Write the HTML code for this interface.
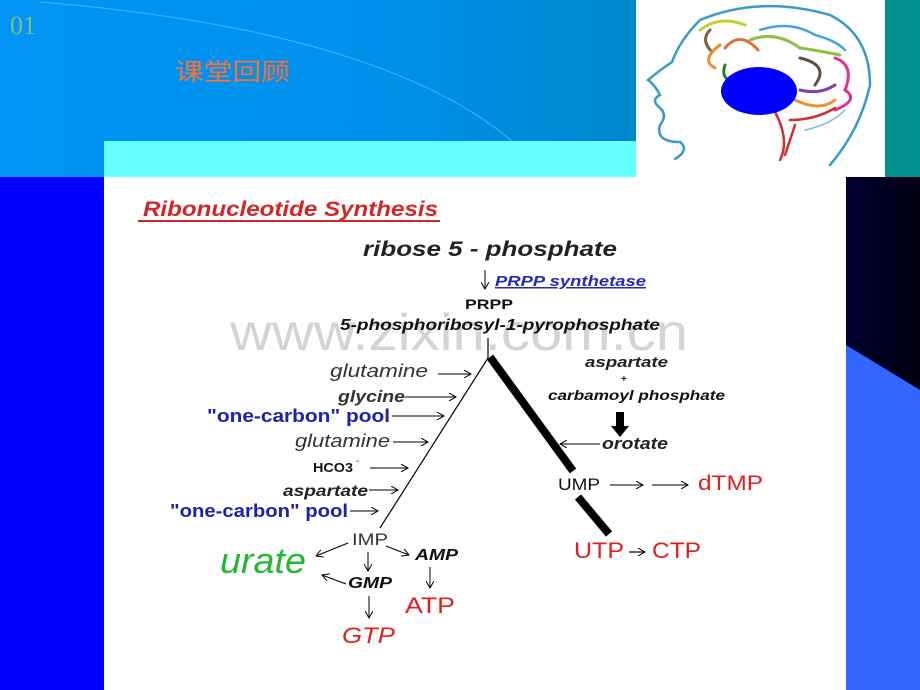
<!DOCTYPE html>
<html><head><meta charset="utf-8"><style>
html,body{margin:0;padding:0;width:920px;height:690px;overflow:hidden;background:#fff}
svg{display:block}
</style></head><body>
<svg width="920" height="690" viewBox="0 0 920 690" xmlns="http://www.w3.org/2000/svg" font-family="Liberation Sans, Arial, sans-serif">
<defs>
<linearGradient id="top" x1="0" x2="1" y1="0" y2="0"><stop offset="0" stop-color="#0094f4"/><stop offset="0.6" stop-color="#0090ec"/><stop offset="1" stop-color="#0088cc"/></linearGradient>
<linearGradient id="navy" x1="0" x2="1"><stop offset="0" stop-color="#000033"/><stop offset="1" stop-color="#00000f"/></linearGradient>
<clipPath id="hc"><rect x="0" y="0" width="636" height="141"/></clipPath>
<marker id="ah" markerWidth="8" markerHeight="8" refX="7" refY="4" orient="auto" markerUnits="userSpaceOnUse"><path d="M0,0 L7,4 L0,8" fill="none" stroke="#000" stroke-width="1"/></marker>
</defs>
<rect x="0" y="0" width="636" height="177" fill="url(#top)"/>
<path d="M40,2 Q380,30 512,141" fill="none" stroke="#3ab8ff" stroke-width="1" clip-path="url(#hc)"/>
<rect x="104" y="141" width="532" height="36" fill="#66ffff"/>
<rect x="885" y="0" width="35" height="177" fill="#009090"/>
<rect x="636" y="0" width="249" height="177" fill="#fff"/>
<text x="10" y="34" font-family="Liberation Serif, serif" font-size="26" fill="#80c080">01</text>
<text x="175" y="80" font-family="Liberation Sans, 'Noto Sans CJK SC', sans-serif" font-size="24" fill="#ff7030" textLength="115" lengthAdjust="spacingAndGlyphs">课堂回顾</text>
<g fill="none" stroke-linecap="round">
<path d="M675,159 Q690,150 680,142 Q655,142 660,125 Q668,115 660,108 Q650,100 660,95 Q655,85 648,80 Q660,70 672,62 Q680,40 700,20 Q760,-5 830,15 Q870,35 870,85 Q860,130 830,165" stroke="#3a9ac8" stroke-width="2.5"/>
<path d="M700,30 Q720,15 745,25" stroke="#c8d030" stroke-width="3"/>
<path d="M710,30 Q700,40 712,52" stroke="#806040" stroke-width="3"/>
<path d="M720,45 Q700,60 715,68" stroke="#e89030" stroke-width="3"/>
<path d="M725,48 Q740,30 758,50" stroke="#e07040" stroke-width="3"/>
<path d="M750,40 Q775,30 800,48 Q815,50 840,55" stroke="#90c040" stroke-width="3"/>
<path d="M760,30 Q790,20 815,35 Q835,40 845,50" stroke="#40a8d8" stroke-width="2.5"/>
<path d="M800,58 Q830,65 815,85" stroke="#605040" stroke-width="3"/>
<path d="M835,58 Q855,65 845,90 Q860,100 835,110" stroke="#e03090" stroke-width="3"/>
<path d="M800,90 Q820,95 835,85" stroke="#8040a0" stroke-width="3"/>
<path d="M795,100 Q820,112 835,100" stroke="#f09030" stroke-width="3"/>
<path d="M725,65 Q720,80 735,82" stroke="#208030" stroke-width="3"/>
<path d="M775,112 Q790,140 780,160 M790,120 Q815,120 835,108 M795,125 Q790,140 785,155" stroke="#d03030" stroke-width="2.5"/>
<path d="M805,130 Q830,125 845,110" stroke="#7ab8d8" stroke-width="1.5"/>
</g>
<ellipse cx="759" cy="91" rx="38" ry="24" fill="#0000ff"/>
<rect x="0" y="177" width="104" height="513" fill="#0000ff"/>
<rect x="846" y="177" width="74" height="513" fill="url(#navy)"/>
<polygon points="846,345 920,390 920,690 846,690" fill="#3366ff"/>
<text x="230" y="350" font-size="52" fill="#d4d4d4" textLength="458" lengthAdjust="spacingAndGlyphs">www.zixin.com.cn</text>
<g lengthAdjust="spacingAndGlyphs">
<text x="143" y="216" font-size="21" font-weight="bold" font-style="italic" fill="#d02828" textLength="295" lengthAdjust="spacingAndGlyphs">Ribonucleotide Synthesis</text>
<rect x="138" y="220" width="302" height="2" fill="#d02828"/>
<text x="363" y="256" font-size="21" font-style="italic" font-weight="bold" fill="#222" textLength="254" lengthAdjust="spacingAndGlyphs">ribose  5 - phosphate</text>
<line x1="485" y1="270" x2="485" y2="289" stroke="#000" marker-end="url(#ah)"/>
<text x="495" y="286" font-size="15" font-style="italic" font-weight="bold" fill="#2828c0" text-decoration="underline" textLength="151" lengthAdjust="spacingAndGlyphs">PRPP synthetase</text>
<text x="465" y="309" font-size="14" font-weight="bold" fill="#111" textLength="48" lengthAdjust="spacingAndGlyphs">PRPP</text>
<text x="340" y="330" font-size="16" font-style="italic" font-weight="bold" fill="#111" textLength="320" lengthAdjust="spacingAndGlyphs">5-phosphoribosyl-1-pyrophosphate</text>
<line x1="488" y1="338" x2="488" y2="358" stroke="#000" stroke-width="1.2"/>
<line x1="488" y1="358" x2="380" y2="528" stroke="#000" stroke-width="1.2"/>
<line x1="490" y1="357" x2="573" y2="471" stroke="#000" stroke-width="8"/>
<line x1="578" y1="497" x2="609" y2="534" stroke="#000" stroke-width="8"/>
<g font-size="18" fill="#333">
<text x="330" y="377" font-style="italic" textLength="98" lengthAdjust="spacingAndGlyphs">glutamine</text>
<text x="338" y="402" font-style="italic" font-weight="bold" font-size="17" textLength="67" lengthAdjust="spacingAndGlyphs">glycine</text>
<text x="207" y="422" font-weight="bold" fill="#2020b0" textLength="183" lengthAdjust="spacingAndGlyphs">"one-carbon" pool</text>
<text x="295" y="447" font-style="italic" textLength="95" lengthAdjust="spacingAndGlyphs">glutamine</text>
<text x="313" y="472" font-weight="bold" font-size="13" fill="#111" textLength="40" lengthAdjust="spacingAndGlyphs">HCO3</text><text x="356" y="464" font-size="10">-</text>
<text x="283" y="496" font-style="italic" font-weight="bold" font-size="16" fill="#222" textLength="85" lengthAdjust="spacingAndGlyphs">aspartate</text>
<text x="170" y="517" font-weight="bold" fill="#2020b0" textLength="178" lengthAdjust="spacingAndGlyphs">"one-carbon" pool</text>
</g>
<g stroke="#000" stroke-width="1">
<line x1="438" y1="374" x2="471" y2="374" marker-end="url(#ah)"/>
<line x1="405" y1="397" x2="456" y2="397" marker-end="url(#ah)"/>
<line x1="392" y1="416" x2="444" y2="416" marker-end="url(#ah)"/>
<line x1="393" y1="442" x2="428" y2="442" marker-end="url(#ah)"/>
<line x1="370" y1="468" x2="408" y2="468" marker-end="url(#ah)"/>
<line x1="369" y1="490" x2="398" y2="490" marker-end="url(#ah)"/>
<line x1="350" y1="511" x2="378" y2="511" marker-end="url(#ah)"/>
<line x1="348" y1="543" x2="316" y2="556" marker-end="url(#ah)"/>
<line x1="386" y1="546" x2="409" y2="555" marker-end="url(#ah)"/>
<line x1="368" y1="552" x2="368" y2="571" marker-end="url(#ah)"/>
<line x1="346" y1="584" x2="322" y2="575" marker-end="url(#ah)"/>
<line x1="430" y1="567" x2="430" y2="588" marker-end="url(#ah)"/>
<line x1="369" y1="596" x2="369" y2="618" marker-end="url(#ah)"/>
<line x1="600" y1="444" x2="560" y2="444" marker-end="url(#ah)"/>
<line x1="610" y1="485" x2="643" y2="485" marker-end="url(#ah)"/>
<line x1="652" y1="485" x2="688" y2="485" marker-end="url(#ah)"/>
</g>
<text x="352" y="545" font-size="17" fill="#333" textLength="36" lengthAdjust="spacingAndGlyphs">IMP</text>
<text x="220" y="573" font-size="36" font-style="italic" fill="#22b830" textLength="86" lengthAdjust="spacingAndGlyphs">urate</text>
<text x="415" y="560" font-size="16" font-style="italic" font-weight="bold" fill="#111" textLength="43" lengthAdjust="spacingAndGlyphs">AMP</text>
<text x="348" y="588" font-size="16" font-style="italic" font-weight="bold" fill="#111" textLength="44" lengthAdjust="spacingAndGlyphs">GMP</text>
<text x="405" y="613" font-size="22" fill="#e02020" textLength="50" lengthAdjust="spacingAndGlyphs">ATP</text>
<text x="342" y="643" font-size="22" font-style="italic" fill="#e02020" textLength="53" lengthAdjust="spacingAndGlyphs">GTP</text>
<text x="585" y="367" font-size="15" font-style="italic" font-weight="bold" fill="#222" textLength="83" lengthAdjust="spacingAndGlyphs">aspartate</text>
<text x="621" y="382" font-size="10" font-weight="bold" fill="#222">+</text>
<text x="548" y="400" font-size="14" font-style="italic" font-weight="bold" fill="#111" textLength="177" lengthAdjust="spacingAndGlyphs">carbamoyl phosphate</text>
<polygon points="616,412 624,412 624,426 629,426 620,437 611,426 616,426" fill="#000"/>
<text x="602" y="449" font-size="17" font-style="italic" font-weight="bold" fill="#222" textLength="66" lengthAdjust="spacingAndGlyphs">orotate</text>
<text x="558" y="490" font-size="17" fill="#111" textLength="42" lengthAdjust="spacingAndGlyphs">UMP</text>
<text x="698" y="490" font-size="21" fill="#e02020" textLength="65" lengthAdjust="spacingAndGlyphs">dTMP</text>
<text x="574" y="558" font-size="22" fill="#e02020" textLength="50" lengthAdjust="spacingAndGlyphs">UTP</text>
<line x1="629" y1="552" x2="645" y2="552" stroke="#000" stroke-width="1.2" marker-end="url(#ah)"/>
<text x="652" y="558" font-size="22" fill="#e02020" textLength="49" lengthAdjust="spacingAndGlyphs">CTP</text>
</g>
</svg>
</body></html>
